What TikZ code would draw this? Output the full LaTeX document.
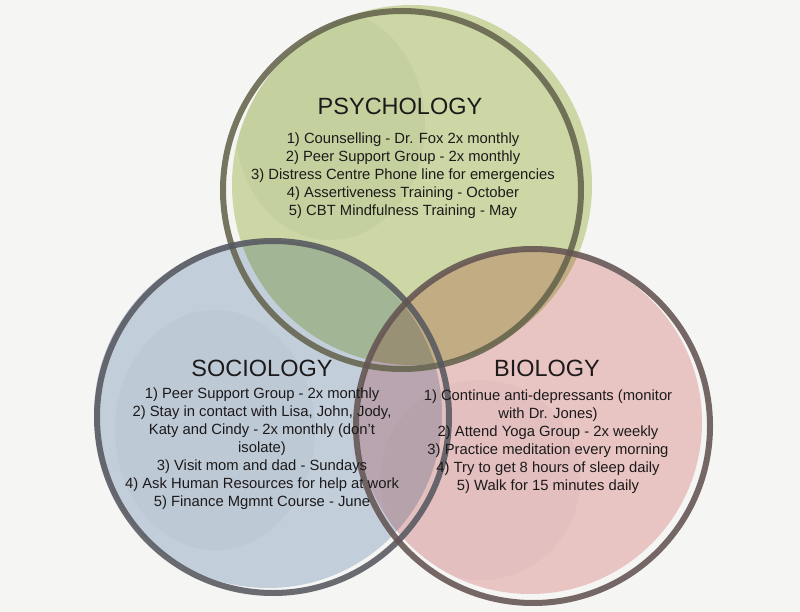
\documentclass[tikz,border=0pt]{standalone}
\usepackage{fontspec}
\setmainfont{Liberation Sans}
\definecolor{bgc}{RGB}{245,245,244}
\definecolor{grnfill}{RGB}{213,224,173}
\definecolor{blufill}{RGB}{203,215,229}
\definecolor{pnkfill}{RGB}{242,205,204}
\definecolor{grnline}{RGB}{100,100,76}
\definecolor{bluline}{RGB}{86,88,96}
\definecolor{pnkline}{RGB}{100,84,82}
\definecolor{txt}{RGB}{28,26,26}
\tikzset{
  ring/.style={line width=6pt, draw opacity=0.88},
  title/.style={font=\fontsize{23.5}{26}\selectfont, text=txt, inner sep=0pt, anchor=base},
  body/.style={font=\fontsize{14.8}{18}\selectfont, text=txt, inner sep=0pt, anchor=north, align=center},
  wash/.style={fill opacity=0.06}
}
\begin{document}
\begin{tikzpicture}[x=1pt,y=-1pt]
\fill[bgc] (0,0) rectangle (800,612);
\useasboundingbox (0,0) rectangle (800,612);
\begin{scope}[blend mode=multiply]
  \fill[grnfill] (412,185) circle[radius=180];
  \fill[blufill] (268,414) circle[radius=174];
  \fill[pnkfill] (530,422) circle[radius=172];
\end{scope}
% watercolour texture
\begin{scope}
  \clip (412,185) circle[radius=180];
  \fill[grnline, wash] (330,125) ellipse[x radius=95, y radius=115];
\end{scope}
\begin{scope}
  \clip (268,414) circle[radius=174];
  \fill[bluline, wash, fill opacity=0.04] (215,430) ellipse[x radius=100, y radius=120];
\end{scope}
\begin{scope}
  \clip (530,422) circle[radius=172];
  \fill[pnkline, wash, fill opacity=0.035] (480,480) ellipse[x radius=100, y radius=100];
\end{scope}
\draw[ring, grnline] (402,190) circle[radius=179];
\draw[ring, bluline] (273,417) circle[radius=176];
\draw[ring, pnkline] (533,426) circle[radius=177];

\node[title] (psyT) at (400,115) {PSYCHOLOGY};
\node[body] (psyB) at (403,133) {1) Counselling - Dr. Fox 2x monthly\\
2) Peer Support Group - 2x monthly\\
3) Distress Centre Phone line for emergencies\\
4) Assertiveness Training - October\\
5) CBT Mindfulness Training - May};

\node[title] (socT) at (262,376.5) {SOCIOLOGY};
\node[body] (socB) at (262,388) {1) Peer Support Group - 2x monthly\\
2) Stay in contact with Lisa, John, Jody,\\
Katy and Cindy - 2x monthly (don’t\\
isolate)\\
3) Visit mom and dad - Sundays\\
4) Ask Human Resources for help at work\\
5) Finance Mgmnt Course - June};

\node[title] (bioT) at (547,376) {BIOLOGY};
\node[body] (bioB) at (548,390) {1) Continue anti-depressants (monitor\\
with Dr. Jones)\\
2) Attend Yoga Group - 2x weekly\\
3) Practice meditation every morning\\
4) Try to get 8 hours of sleep daily\\
5) Walk for 15 minutes daily};
\end{tikzpicture}
\end{document}
